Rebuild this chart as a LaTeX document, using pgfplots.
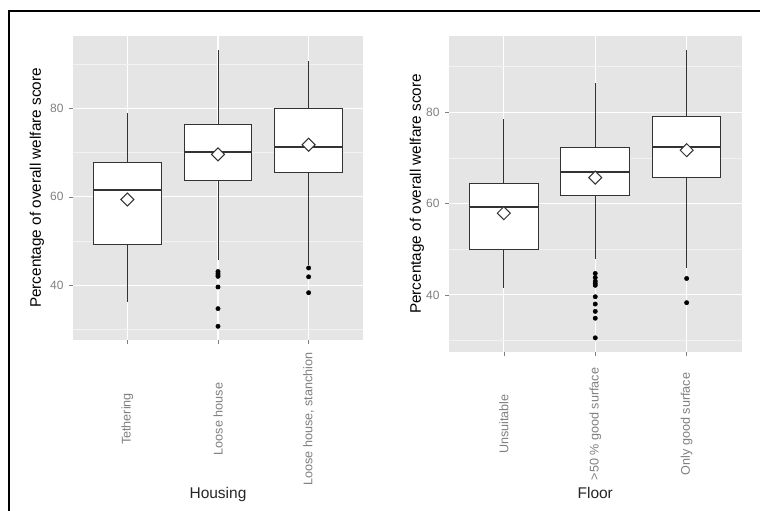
\documentclass[border=0pt]{standalone}
\usepackage{fontspec}
\setmainfont{Liberation Sans}
\usepackage{pgfplots}
\pgfplotsset{compat=1.18}
\usepgfplotslibrary{statistics}
\definecolor{ggbg}{HTML}{E5E5E5}
\definecolor{ggminor}{HTML}{F2F2F2}
\definecolor{ggtick}{HTML}{7F7F7F}
\definecolor{ggline}{HTML}{333333}
\pgfplotsset{
 ggstyle/.style={
  scale only axis,
  axis background/.style={fill=ggbg},
  axis line style={draw=none},
  xmin=-0.6, xmax=2.6,
  xtick={0,1,2},
  ytick={40,60,80},
  minor ytick={30,50,70,90},
  xmajorgrids, ymajorgrids, yminorgrids,
  major grid style={white, line width=1.1pt},
  minor grid style={ggminor, line width=0.5pt},
  tick align=outside,
  xtick pos=bottom, ytick pos=left,
  major tick length=4pt, minor tick length=0pt,
  tick style={ggtick, line width=0.6pt},
  /pgf/number format/assume math mode=true,
  yticklabel style={font=\fontsize{12}{12}\selectfont, text=ggtick, xshift=-2pt},
  boxplot/draw direction=y,
  boxplot/box extend=0.75,
  boxplot/whisker extend=0,
  boxplot/every median/.style={line width=2pt},
 },
 ggbox/.style={draw=ggline, fill=white, line width=1pt, solid, mark=none},
 ggout/.style={only marks, mark=*, mark size=2.2pt, black},
 ggmean/.style={only marks, mark=square*, mark size=4.6pt, mark options={rotate=45, fill=white, draw=ggline, line width=1pt}},
}
\begin{document}
\begin{tikzpicture}
\useasboundingbox (0,0) rectangle (760pt,511pt);
\draw[line width=2pt] (9pt,-20pt) -- (9pt,500pt) -- (780pt,500pt);
% Left: Housing
\begin{axis}[ggstyle,
  at={(73pt,171pt)}, anchor=south west,
  width=290pt, height=304pt,
  ymin=27.6, ymax=96.4,
  xticklabels={Tethering, Loose house, {Loose house, stanchion}},
  xticklabel style={yshift=-75pt, rotate=90, anchor=center, font=\fontsize{12.6}{13}\selectfont, text=ggtick},
  xlabel={Housing},
  ylabel={Percentage of overall welfare score},
  every axis x label/.style={at={(axis description cs:0.5,-0.5066)}, anchor=center, font=\fontsize{15.5}{16}\selectfont, text=black!85},
  every axis y label/.style={at={(axis description cs:-0.124,0.5)}, rotate=90, anchor=center, font=\fontsize{15.3}{16}\selectfont, text=black},
]
\addplot[ggbox, boxplot prepared={lower whisker=36.2, lower quartile=49.2, median=61.5, upper quartile=67.7, upper whisker=78.9, draw position=0}] coordinates {};
\addplot[ggbox, boxplot prepared={lower whisker=45.8, lower quartile=63.7, median=70.1, upper quartile=76.4, upper whisker=93.3, draw position=1}] coordinates {};
\addplot[ggbox, boxplot prepared={lower whisker=44.5, lower quartile=65.6, median=71.3, upper quartile=79.9, upper whisker=90.7, draw position=2}] coordinates {};
\addplot[ggout] coordinates {(1,43.1) (1,42.7) (1,42.3) (1,42.0) (1,39.6) (1,34.7) (1,30.7) (2,43.9) (2,41.9) (2,38.3)};
\addplot[ggmean] coordinates {(0,59.4) (1,69.6) (2,71.8)};
\end{axis}
% Right: Floor
\begin{axis}[ggstyle,
  at={(449pt,159pt)}, anchor=south west,
  width=292.5pt, height=316pt,
  ymin=27.5, ymax=96.7,
  xticklabels={Unsuitable, {>50 \% good surface}, Only good surface},
  xticklabel style={yshift=-68pt, rotate=90, anchor=center, font=\fontsize{12.6}{13}\selectfont, text=ggtick},
  xlabel={Floor},
  ylabel={Percentage of overall welfare score},
  every axis x label/.style={at={(axis description cs:0.5,-0.447)}, anchor=center, font=\fontsize{15.5}{16}\selectfont, text=black!85},
  every axis y label/.style={at={(axis description cs:-0.110,0.5)}, rotate=90, anchor=center, font=\fontsize{15.3}{16}\selectfont, text=black},
]
\addplot[ggbox, boxplot prepared={lower whisker=41.6, lower quartile=49.9, median=59.2, upper quartile=64.4, upper whisker=78.6, draw position=0}] coordinates {};
\addplot[ggbox, boxplot prepared={lower whisker=47.9, lower quartile=61.7, median=67.0, upper quartile=72.2, upper whisker=86.5, draw position=1}] coordinates {};
\addplot[ggbox, boxplot prepared={lower whisker=46.0, lower quartile=65.7, median=72.4, upper quartile=79.1, upper whisker=93.6, draw position=2}] coordinates {};
\addplot[ggout] coordinates {(1,44.7) (1,43.8) (1,43.0) (1,42.5) (1,42.1) (1,39.6) (1,38.0) (1,36.4) (1,34.9) (1,30.6) (2,43.6) (2,38.3)};
\addplot[ggmean] coordinates {(0,57.9) (1,65.7) (2,71.7)};
\end{axis}
\end{tikzpicture}
\end{document}
